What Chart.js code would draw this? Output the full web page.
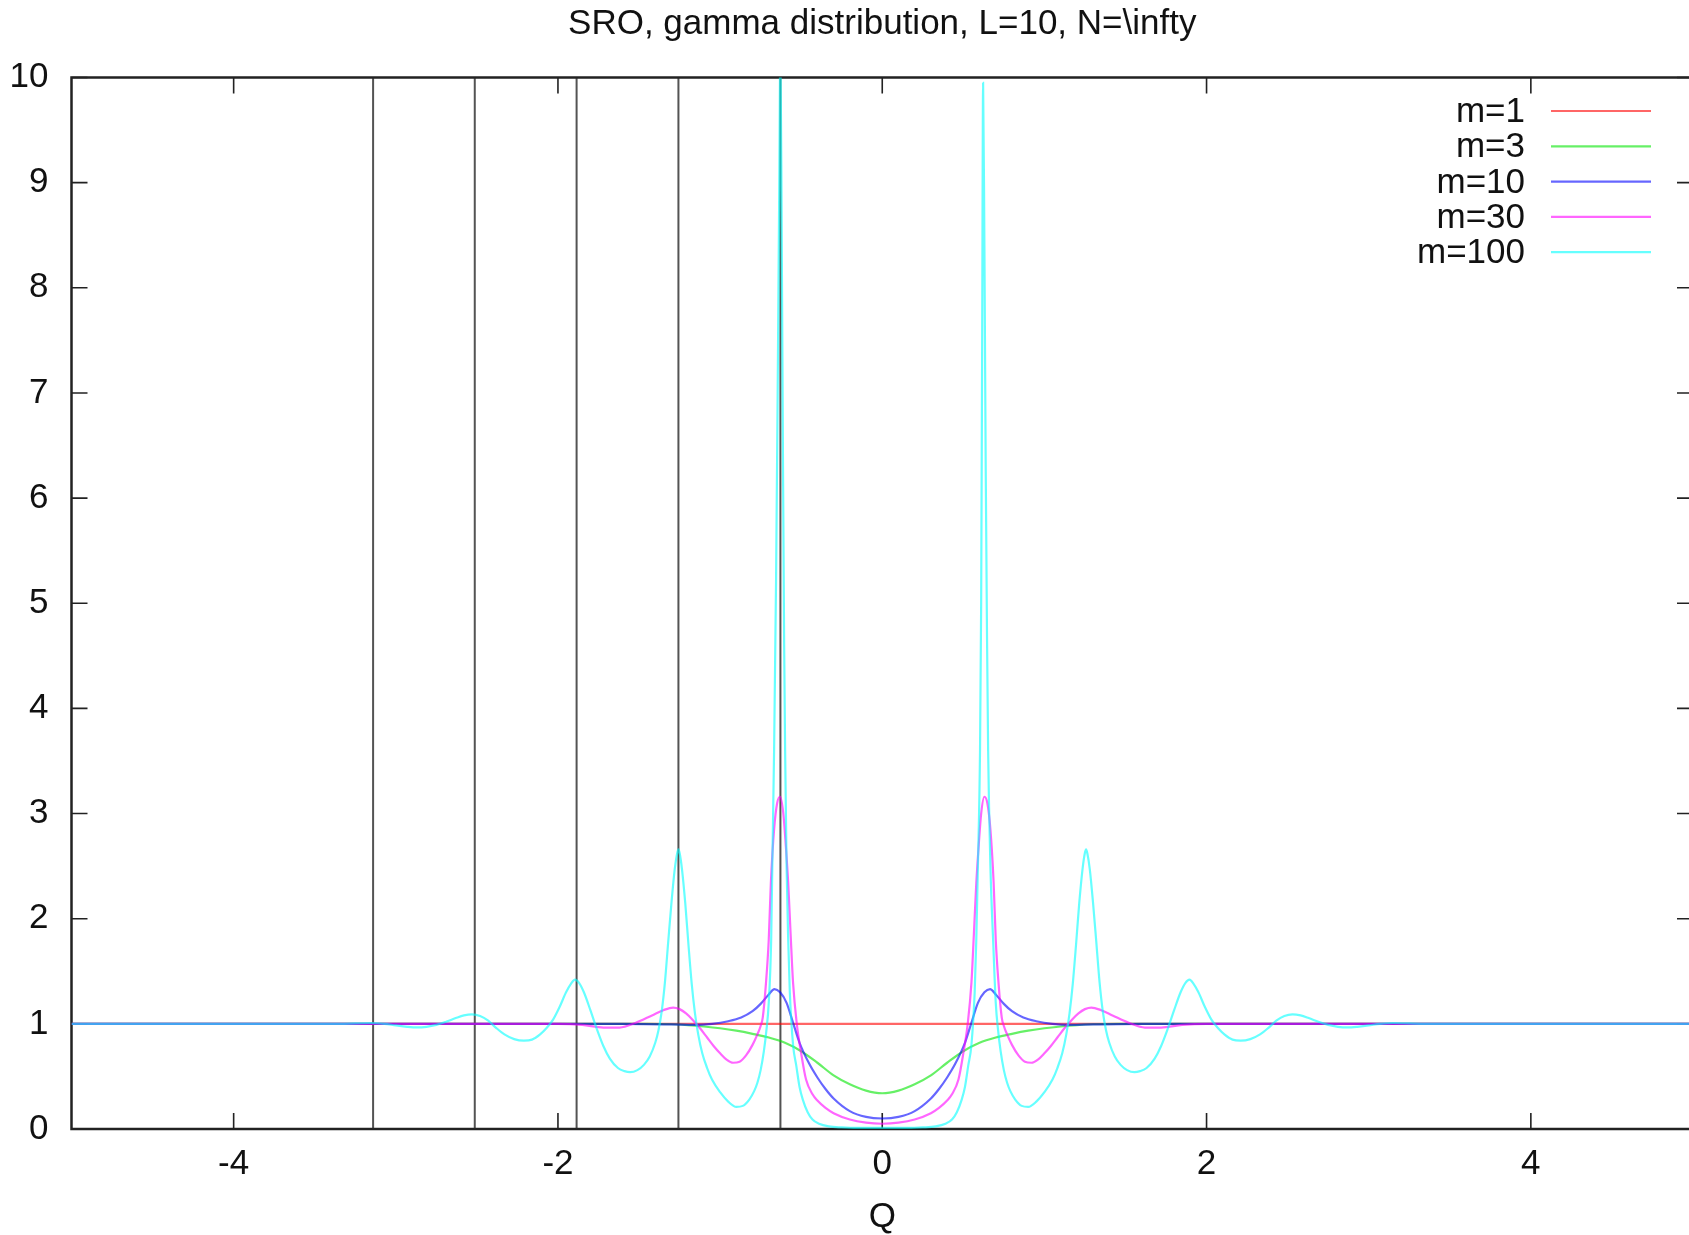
<!DOCTYPE html>
<html>
<head>
<meta charset="utf-8">
<script src="https://cdn.jsdelivr.net/npm/chart.js@4.4.0/dist/chart.umd.min.js"></script>
<style>
  html, body { margin: 0; padding: 0; overflow: hidden; background: #fff; }
  #wrap { width: 1697px; height: 1235px; }
</style>
</head>
<body>
<div id="wrap"><canvas id="myChart"></canvas></div>
<script>
const titleText = 'SRO, gamma distribution, L=10, N=\\infty';
const xTitle = 'Q';
const xTicks = [-4, -2, 0, 2, 4];
const yTicks = [0, 1, 2, 3, 4, 5, 6, 7, 8, 9, 10];

// vertical marker lines
const markerQ = [-3.14, -2.513, -1.885, -1.257, -0.628];

// m=1
const q1 = [-5, 5];
const s1 = [1, 1];

// m=3
const q3 = [-5, -2, -1.45, -1.3, -1.2, -1.1, -1.0, -0.9, -0.8, -0.7, -0.6, -0.5, -0.4, -0.3, -0.2, -0.1, 0,
  0.1, 0.2, 0.3, 0.4, 0.5, 0.6, 0.7, 0.8, 0.9, 1.0, 1.1, 1.2, 1.3, 1.45, 2, 5];
const s3 = [1, 1, 1, 0.996, 0.988, 0.975, 0.958, 0.935, 0.905, 0.87, 0.82, 0.74, 0.63, 0.51, 0.425, 0.365, 0.34,
  0.365, 0.425, 0.51, 0.63, 0.74, 0.82, 0.87, 0.905, 0.935, 0.958, 0.975, 0.988, 0.996, 1, 1, 1];

// m=10
const q10 = [-5, -1.6, -1.3, -1.15, -1.05, -0.95, -0.87, -0.80, -0.75, -0.70, -0.665, -0.63, -0.59, -0.55, -0.51, -0.45, -0.40, -0.35, -0.30, -0.20, -0.10, 0,
  0.10, 0.20, 0.30, 0.35, 0.40, 0.45, 0.51, 0.55, 0.59, 0.63, 0.665, 0.70, 0.75, 0.80, 0.87, 0.95, 1.05, 1.15, 1.3, 1.6, 5];
const s10 = [1, 1, 0.995, 0.99, 1.0, 1.025, 1.06, 1.12, 1.19, 1.28, 1.33, 1.3, 1.2, 1.01, 0.82, 0.62, 0.49, 0.38, 0.29, 0.17, 0.115, 0.10,
  0.115, 0.17, 0.29, 0.38, 0.49, 0.62, 0.82, 1.01, 1.2, 1.3, 1.33, 1.28, 1.19, 1.12, 1.06, 1.025, 1.0, 0.99, 0.995, 1, 1];

// m=30
const q30 = [-5, -2.3, -2.0, -1.85, -1.72, -1.62, -1.52, -1.42, -1.35, -1.29, -1.25, -1.21, -1.17, -1.125, -1.08, -1.04, -1.0, -0.96, -0.92, -0.88, -0.84, -0.80, -0.77, -0.75, -0.737, -0.717, -0.70, -0.687, -0.667, -0.648, -0.63, -0.61, -0.595, -0.58, -0.565, -0.55, -0.527, -0.50, -0.47, -0.43, -0.40, -0.35, -0.30, -0.20, -0.10, 0,
  0.10, 0.20, 0.30, 0.35, 0.40, 0.43, 0.47, 0.50, 0.527, 0.55, 0.565, 0.58, 0.595, 0.61, 0.63, 0.648, 0.667, 0.687, 0.70, 0.717, 0.737, 0.75, 0.77, 0.80, 0.84, 0.88, 0.92, 0.96, 1.0, 1.04, 1.08, 1.125, 1.17, 1.21, 1.25, 1.29, 1.35, 1.42, 1.52, 1.62, 1.72, 1.85, 2.0, 2.3, 5];
const s30 = [1, 1, 1.0, 0.99, 0.965, 0.965, 1.01, 1.08, 1.13, 1.155, 1.14, 1.1, 1.04, 0.96, 0.87, 0.79, 0.72, 0.66, 0.63, 0.64, 0.7, 0.8, 0.9, 0.98, 1.06, 1.39, 1.8, 2.34, 2.85, 3.1, 3.16, 3.0, 2.7, 2.34, 1.85, 1.39, 1.0, 0.72, 0.47, 0.33, 0.27, 0.2, 0.15, 0.09, 0.06, 0.05,
  0.06, 0.09, 0.15, 0.2, 0.27, 0.33, 0.47, 0.72, 1.0, 1.39, 1.85, 2.34, 2.7, 3.0, 3.16, 3.1, 2.85, 2.34, 1.8, 1.39, 1.06, 0.98, 0.9, 0.8, 0.7, 0.64, 0.63, 0.66, 0.72, 0.79, 0.87, 0.96, 1.04, 1.1, 1.14, 1.155, 1.13, 1.08, 1.01, 0.965, 0.965, 0.99, 1.0, 1, 1];

// m=100
const q100 = [-5, -3.4, -3.25, -3.15, -3.07, -3.0, -2.93, -2.87, -2.81, -2.75, -2.69, -2.63, -2.58, -2.53, -2.48, -2.43, -2.38, -2.33, -2.27, -2.21, -2.16, -2.11, -2.07, -2.03, -1.99, -1.95, -1.92, -1.895, -1.87, -1.84, -1.80, -1.76, -1.72, -1.68, -1.63, -1.59, -1.555, -1.51, -1.47, -1.434, -1.40, -1.38, -1.36, -1.34, -1.32, -1.30, -1.28, -1.265, -1.257, -1.249, -1.235, -1.215, -1.195, -1.175, -1.155, -1.135, -1.11, -1.08, -1.05, -1.0, -0.95, -0.90, -0.86, -0.82, -0.79, -0.77, -0.75, -0.73, -0.715, -0.70, -0.685, -0.667, -0.655, -0.645, -0.636, -0.628, -0.62, -0.612, -0.605, -0.599, -0.59, -0.58, -0.57, -0.55, -0.53, -0.51, -0.49, -0.46, -0.43, -0.39, -0.33, -0.25, -0.15, 0,
  0.15, 0.25, 0.33, 0.39, 0.43, 0.46, 0.49, 0.51, 0.53, 0.55, 0.57, 0.58, 0.59, 0.603, 0.61, 0.616, 0.622, 0.63, 0.638, 0.646, 0.653, 0.667, 0.685, 0.70, 0.715, 0.73, 0.75, 0.77, 0.79, 0.82, 0.86, 0.90, 0.95, 1.0, 1.05, 1.08, 1.11, 1.135, 1.155, 1.175, 1.195, 1.215, 1.235, 1.249, 1.257, 1.265, 1.28, 1.30, 1.32, 1.34, 1.36, 1.38, 1.40, 1.434, 1.47, 1.51, 1.555, 1.59, 1.63, 1.68, 1.72, 1.76, 1.80, 1.84, 1.87, 1.895, 1.92, 1.95, 1.99, 2.03, 2.07, 2.11, 2.16, 2.21, 2.27, 2.33, 2.38, 2.43, 2.48, 2.53, 2.58, 2.63, 2.69, 2.75, 2.81, 2.87, 2.93, 3.0, 3.07, 3.15, 3.25, 3.4, 5];
const s100 = [1, 1.0, 1.004, 1.008, 1.0, 0.985, 0.972, 0.966, 0.972, 0.99, 1.02, 1.055, 1.08, 1.09, 1.075, 1.03, 0.96, 0.9, 0.855, 0.84, 0.85, 0.9, 0.96, 1.04, 1.16, 1.3, 1.38, 1.42, 1.39, 1.3, 1.13, 0.95, 0.79, 0.67, 0.58, 0.55, 0.54, 0.56, 0.61, 0.69, 0.82, 0.94, 1.12, 1.4, 1.78, 2.15, 2.47, 2.62, 2.66, 2.62, 2.47, 2.15, 1.75, 1.38, 1.1, 0.9, 0.72, 0.58, 0.47, 0.35, 0.26, 0.21, 0.22, 0.28, 0.36, 0.44, 0.56, 0.74, 0.93, 1.2, 1.8, 3.6, 5.2, 7.0, 8.8, 10.3, 8.5, 6.3, 4.6, 3.6, 2.5, 1.8, 1.3, 0.8, 0.6, 0.4, 0.28, 0.16, 0.09, 0.05, 0.025, 0.015, 0.01, 0.01,
  0.01, 0.015, 0.025, 0.05, 0.09, 0.16, 0.28, 0.4, 0.6, 0.8, 1.3, 1.8, 2.5, 3.6, 5.0, 7.4, 9.95, 8.4, 6.3, 4.7, 3.6, 2.5, 1.75, 1.2, 0.93, 0.74, 0.56, 0.44, 0.36, 0.28, 0.22, 0.21, 0.26, 0.35, 0.47, 0.58, 0.72, 0.9, 1.1, 1.38, 1.75, 2.15, 2.47, 2.62, 2.66, 2.62, 2.47, 2.15, 1.78, 1.4, 1.12, 0.94, 0.82, 0.69, 0.61, 0.56, 0.54, 0.55, 0.58, 0.67, 0.79, 0.95, 1.13, 1.3, 1.39, 1.42, 1.38, 1.3, 1.16, 1.04, 0.96, 0.9, 0.85, 0.84, 0.855, 0.9, 0.96, 1.03, 1.075, 1.09, 1.08, 1.055, 1.02, 0.99, 0.972, 0.966, 0.972, 0.985, 1.0, 1.008, 1.004, 1.0, 1];

const pts = (qs, vs) => qs.map((q, i) => ({x: q, y: vs[i]}));

function curve(label, color, qs, vs, order) {
  return {
    label: label,
    data: pts(qs, vs),
    borderColor: color,
    backgroundColor: color,
    borderWidth: 2.2,
    pointRadius: 0,
    cubicInterpolationMode: 'monotone',
    order: order
  };
}

const markers = markerQ.map(q => ({
  label: '',
  data: [{x: q, y: 0}, {x: q, y: 10}],
  borderColor: 'rgba(40,40,40,0.8)',
  borderWidth: 2,
  pointRadius: 0,
  order: 10
}));

// gnuplot colours, drawn semi transparent so overlaps blend
const data = {
  datasets: [
    curve('m=1', 'rgba(255,0,0,0.6)', q1, s1, 5),
    curve('m=3', 'rgba(0,230,0,0.6)', q3, s3, 4),
    curve('m=10', 'rgba(0,0,255,0.6)', q10, s10, 3),
    curve('m=30', 'rgba(255,0,255,0.6)', q30, s30, 2),
    curve('m=100', 'rgba(0,255,255,0.6)', q100, s100, 1)
  ].concat(markers)
};

const font = '"Liberation Sans", Arial, sans-serif';

const frame = {
  id: 'frame',
  beforeDatasetsDraw(chart) {
    const {ctx, chartArea: a, scales: {x, y}} = chart;
    ctx.save();
    // inward ticks, mirrored, under the curves
    ctx.strokeStyle = '#222';
    ctx.lineWidth = 1.6;
    ctx.beginPath();
    xTicks.forEach(v => {
      const px = x.getPixelForValue(v);
      ctx.moveTo(px, a.bottom); ctx.lineTo(px, a.bottom - 16);
      ctx.moveTo(px, a.top); ctx.lineTo(px, a.top + 16);
    });
    yTicks.forEach(v => {
      const py = y.getPixelForValue(v);
      ctx.moveTo(a.left, py); ctx.lineTo(a.left + 16, py);
      ctx.moveTo(a.right, py); ctx.lineTo(a.right - 16, py);
    });
    ctx.stroke();
    ctx.lineWidth = 2.5;
    ctx.strokeRect(a.left, a.top, a.right - a.left, a.bottom - a.top);
    ctx.restore();
  },
  afterDraw(chart) {
    const {ctx, chartArea: a} = chart;
    ctx.save();
    // title over the plot
    ctx.font = '35px ' + font;
    ctx.fillStyle = '#111';
    ctx.textAlign = 'center';
    ctx.textBaseline = 'middle';
    ctx.fillText(titleText, (a.left + a.right) / 2, 24);

    // key, top right
    const curves = chart.data.datasets.filter(d => d.label);
    curves.forEach((d, i) => {
      const ry = 111 + i * 35.3;
      ctx.textAlign = 'right';
      ctx.fillText(d.label, 1525, ry + 1.5);
      ctx.strokeStyle = d.borderColor;
      ctx.lineWidth = 2.2;
      ctx.beginPath();
      ctx.moveTo(1551, ry); ctx.lineTo(1651, ry);
      ctx.stroke();
    });
    ctx.restore();
  }
};

const config = {
  type: 'line',
  data: data,
  options: {
    responsive: true,
    maintainAspectRatio: false,
    animation: false,
    layout: {padding: {left: 0, right: 4, top: 77.5, bottom: 0}},
    plugins: {legend: {display: false}, tooltip: {enabled: false}, title: {display: false}},
    scales: {
      x: {
        type: 'linear',
        min: -5, max: 5,
        grid: {display: false, drawTicks: false},
        border: {display: false},
        afterBuildTicks: s => { s.ticks = xTicks.map(v => ({value: v})); },
        afterFit: s => { s.height = 106; },
        ticks: {padding: 14.5, color: '#111', font: {family: font, size: 35}, maxRotation: 0},
        title: {display: true, text: xTitle, color: '#111', padding: 0, font: {family: font, size: 35, lineHeight: 1}}
      },
      y: {
        min: 0, max: 10,
        grid: {display: false, drawTicks: false},
        border: {display: false},
        afterBuildTicks: s => { s.ticks = yTicks.map(v => ({value: v})); },
        afterFit: s => { s.width = 71.5; },
        ticks: {padding: 23, color: '#111', font: {family: font, size: 35}}
      }
    }
  },
  plugins: [frame]
};

const myChart = new Chart(document.getElementById('myChart'), config);
</script>
</body>
</html>
